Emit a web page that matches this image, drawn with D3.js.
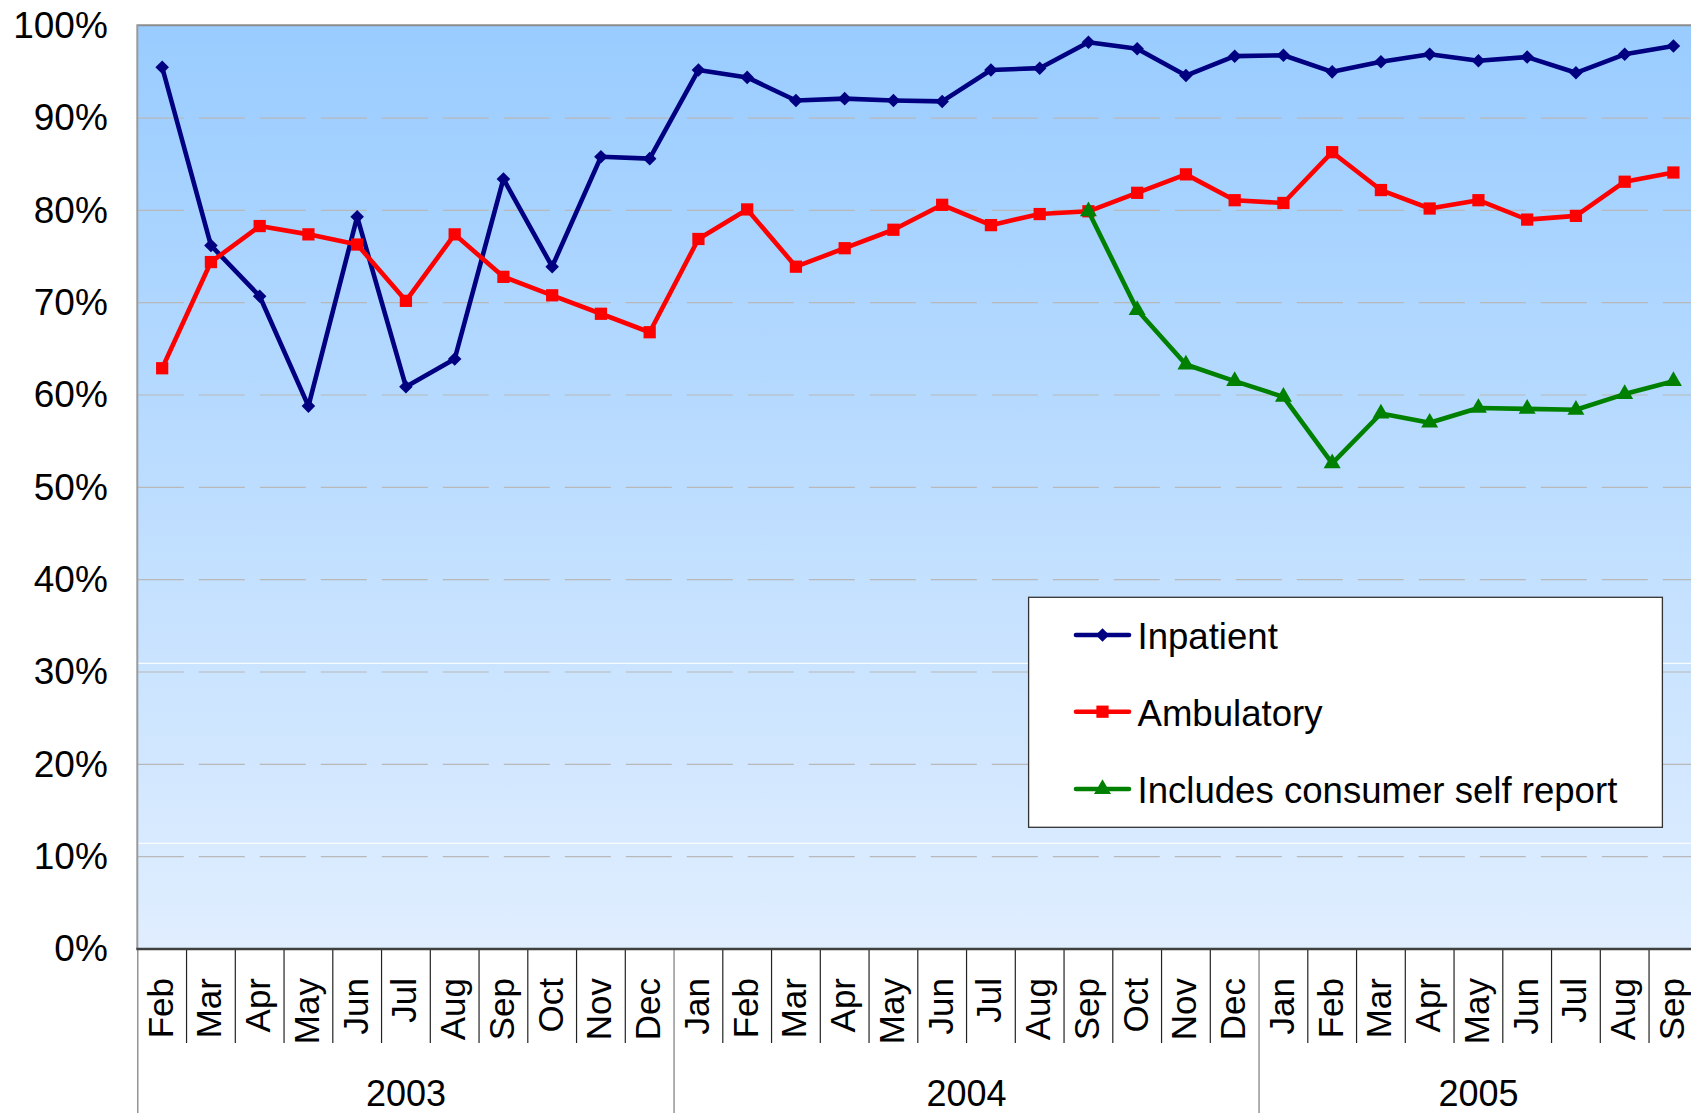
<!DOCTYPE html>
<html>
<head>
<meta charset="utf-8">
<script src="https://cdn.jsdelivr.net/npm/d3@7"></script>
<style>
  html, body { margin: 0; padding: 0; background: #fff; }
  svg { display: block; font-family: "Liberation Sans", Arial, sans-serif; }
</style>
</head>
<body>
<svg id="chart" width="1691" height="1113"></svg>
<script>
// ---- data ----
const months = ["Feb","Mar","Apr","May","Jun","Jul","Aug","Sep","Oct","Nov","Dec",
                "Jan","Feb","Mar","Apr","May","Jun","Jul","Aug","Sep","Oct","Nov","Dec",
                "Jan","Feb","Mar","Apr","May","Jun","Jul","Aug","Sep"];
const monthYears = ["2003","2003","2003","2003","2003","2003","2003","2003","2003","2003","2003",
                "2004","2004","2004","2004","2004","2004","2004","2004","2004","2004","2004","2004",
                "2005","2005","2005","2005","2005","2005","2005","2005","2005"];
const yearLabels = ["2003","2004","2005"];
const inpatient = [95.5,76.2,70.7,58.8,79.3,60.9,63.9,83.4,73.9,85.8,85.6,
                   95.2,94.4,91.9,92.1,91.9,91.8,95.2,95.4,98.2,97.5,94.6,96.7,
                   96.8,95.0,96.1,96.9,96.2,96.6,94.9,96.9,97.8];
const ambulatory = [62.9,74.4,78.3,77.4,76.3,70.2,77.4,72.8,70.8,68.8,66.8,
                    76.9,80.1,73.9,75.9,77.9,80.6,78.4,79.6,79.9,81.9,83.9,81.1,
                    80.8,86.3,82.2,80.2,81.1,79.0,79.4,83.1,84.1];
const selfReport = [null,null,null,null,null,null,null,null,null,null,null,
                    null,null,null,null,null,null,null,null,79.9,69.2,63.3,61.5,
                    59.8,52.6,58.0,57.0,58.6,58.5,58.4,60.1,61.5];
const yTicks = [0,10,20,30,40,50,60,70,80,90,100];
const seriesNames = ["Inpatient","Ambulatory","Includes consumer self report"];

// ---- layout ----
const svg = d3.select("#chart");
const W = 1691, H = 1113;
const plotLeft = 137.8, step = 48.75, plotTop = 25.7, plotBottom = 949;
const plotRight = plotLeft + step * months.length;

const x = d3.scaleBand().domain(d3.range(months.length)).range([plotLeft, plotRight]).padding(0);
const y = d3.scaleLinear().domain([0, 100]).range([plotBottom, plotTop]);

// background gradient
const defs = svg.append("defs");
const grad = defs.append("linearGradient").attr("id", "bg").attr("x1", 0).attr("y1", 0).attr("x2", 0).attr("y2", 1);
grad.append("stop").attr("offset", "0%").attr("stop-color", "#99CCFF");
grad.append("stop").attr("offset", "100%").attr("stop-color", "#E0EEFF");

svg.append("rect").attr("x", plotLeft).attr("y", plotTop)
  .attr("width", plotRight - plotLeft).attr("height", plotBottom - plotTop)
  .attr("fill", "url(#bg)");

// faint band lines of the original gradient
[663.3, 843.3].forEach(py => {
  svg.append("line").attr("x1", plotLeft).attr("x2", W).attr("y1", py).attr("y2", py)
    .attr("stroke", "#ffffff").attr("stroke-width", 1.3).attr("opacity", 0.9);
});

// gridlines
svg.append("g").selectAll("line").data(yTicks.filter(d => d > 0 && d < 100)).join("line")
  .attr("x1", plotLeft).attr("x2", W)
  .attr("y1", d => y(d)).attr("y2", d => y(d))
  .attr("stroke", "#B8B8B8").attr("stroke-width", 1.2)
  .attr("stroke-dasharray", "46,15");

// plot borders
svg.append("line").attr("x1", plotLeft).attr("x2", W).attr("y1", plotTop - 0.5).attr("y2", plotTop - 0.5)
  .attr("stroke", "#8C8C8C").attr("stroke-width", 2);
svg.append("line").attr("x1", plotLeft - 0.5).attr("x2", plotLeft - 0.5).attr("y1", plotTop - 1.5).attr("y2", plotBottom)
  .attr("stroke", "#9A9A9A").attr("stroke-width", 2);

// y axis labels
const yAxis = d3.axisLeft(y).tickValues(yTicks).tickFormat(d => d + "%").tickSize(0).tickPadding(30);
const yg = svg.append("g").attr("transform", `translate(${plotLeft},0)`).call(yAxis);
yg.select(".domain").remove();
yg.selectAll("text").attr("font-size", 37).attr("fill", "#000")
  .attr("font-family", "'Liberation Sans', Arial, sans-serif");

// category axis: boundaries
const boundaries = d3.range(months.length + 1);
const isYearStart = i => i === 0 || (i < months.length && monthYears[i] !== monthYears[i - 1]);
svg.append("g").selectAll("line").data(boundaries).join("line")
  .attr("x1", i => plotLeft + i * x.step()).attr("x2", i => plotLeft + i * x.step())
  .attr("y1", plotBottom).attr("y2", i => isYearStart(i) ? H : 1043)
  .attr("stroke", i => isYearStart(i) ? "#7A7A7A" : "#222")
  .attr("stroke-width", 1.2);

// bottom axis line
svg.append("line").attr("x1", plotLeft - 1.5).attr("x2", W).attr("y1", plotBottom).attr("y2", plotBottom)
  .attr("stroke", "#404040").attr("stroke-width", 2.5);

// month labels
svg.append("g").selectAll("text").data(months).join("text")
  .attr("transform", (d, i) => `translate(${x(i) + x.bandwidth() / 2},978) rotate(-90)`)
  .attr("text-anchor", "end")
  .attr("dy", "0.3em")
  .attr("font-size", 35)
  .attr("fill", "#000")
  .text(d => d);

// year labels
const yearSpans = yearLabels.map(yr => {
  const idx = monthYears.map((m, i) => m === yr ? i : -1).filter(i => i >= 0);
  return { yr, x0: x(idx[0]), x1: x(idx[idx.length - 1]) + x.bandwidth() };
});
svg.append("g").selectAll("text").data(yearSpans).join("text")
  .attr("x", d => (d.x0 + d.x1) / 2).attr("y", 1106)
  .attr("text-anchor", "middle").attr("font-size", 36).attr("fill", "#000")
  .text(d => d.yr);

// series
const seriesDefs = [
  { name: seriesNames[0], values: inpatient, color: "#000080", marker: "diamond" },
  { name: seriesNames[1], values: ambulatory, color: "#FF0000", marker: "square" },
  { name: seriesNames[2], values: selfReport, color: "#008000", marker: "triangle" }
];
function markerPath(kind) {
  if (kind === "diamond") return d3.symbol().type(d3.symbolSquare).size(92)();
  if (kind === "square") return d3.symbol().type(d3.symbolSquare).size(150)();
  return d3.symbol().type(d3.symbolTriangle).size(125)();
}
const line = d3.line()
  .defined(d => d.v !== null)
  .x(d => x(d.i) + x.bandwidth() / 2)
  .y(d => y(d.v));

seriesDefs.forEach(s => {
  const pts = s.values.map((v, i) => ({ i, v }));
  const g = svg.append("g");
  g.append("path").datum(pts).attr("d", line)
    .attr("fill", "none").attr("stroke", s.color).attr("stroke-width", 4.6)
    .attr("stroke-linejoin", "round");
  g.selectAll("path.m").data(pts.filter(d => d.v !== null)).join("path")
    .attr("class", "m")
    .attr("d", markerPath(s.marker))
    .attr("transform", d => `translate(${x(d.i) + x.bandwidth() / 2},${y(d.v)})` + (s.marker === "diamond" ? " rotate(45)" : ""))
    .attr("fill", s.color);
});

// legend
const lg = svg.append("g");
lg.append("rect").attr("x", 1028.6).attr("y", 597.3).attr("width", 633.8).attr("height", 230)
  .attr("fill", "#fff").attr("stroke", "#333").attr("stroke-width", 1.3);
const legendY = [635, 711.7, 789];
seriesDefs.forEach((s, k) => {
  const ly = legendY[k];
  lg.append("line").attr("x1", 1076).attr("x2", 1129).attr("y1", ly).attr("y2", ly)
    .attr("stroke", s.color).attr("stroke-width", 4.6).attr("stroke-linecap", "round");
  lg.append("path").attr("d", markerPath(s.marker))
    .attr("transform", `translate(1102.5,${ly})` + (s.marker === "diamond" ? " rotate(45)" : ""))
    .attr("fill", s.color);
  lg.append("text").attr("x", 1137.5).attr("y", ly + 14)
    .attr("font-size", 36.6).attr("fill", "#000").text(s.name);
});
</script>
</body>
</html>
